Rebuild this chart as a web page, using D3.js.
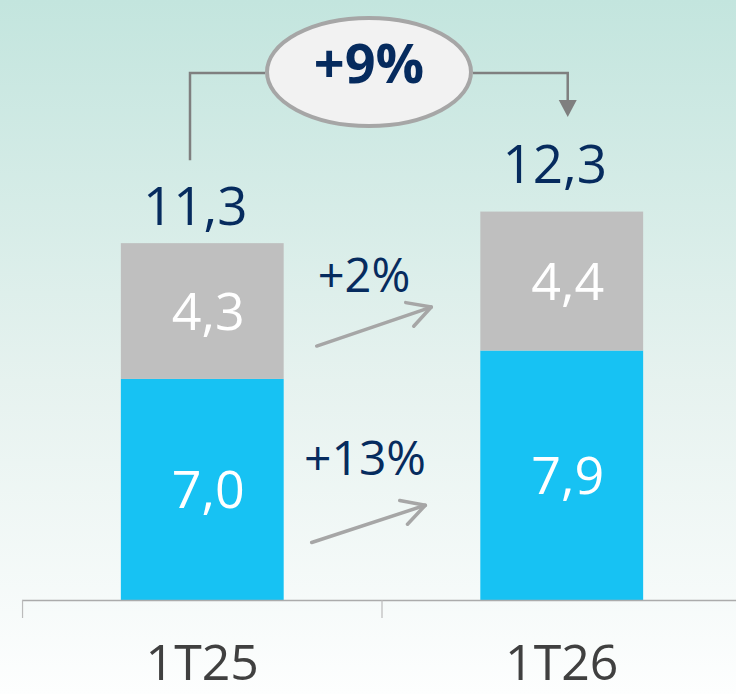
<!DOCTYPE html>
<html>
<head>
<meta charset="utf-8">
<script src="https://cdn.jsdelivr.net/npm/d3@7"></script>
<style>
  html, body { margin: 0; padding: 0; background: #fff; }
  svg { display: block; font-family: "Open Sans", "Noto Sans", sans-serif; }
</style>
</head>
<body>
<div id="chart"></div>
<script>
// ---- data ----
const categories = ["1T25", "1T26"];
const baseValues = [7.0, 7.9];      // blue segment
const topValues = [4.3, 4.4];       // gray segment
const totals = [11.3, 12.3];
const baseLabels = ["7,0", "7,9"];
const topLabels = ["4,3", "4,4"];
const totalLabels = ["11,3", "12,3"];
const growthTop = "+2%";
const growthBase = "+13%";
const growthTotal = "+9%";

const W = 736, H = 694;
const navy = "#062B5E";

const svg = d3.select("#chart").append("svg").attr("width", W).attr("height", H);

// background gradient
const defs = svg.append("defs");
const grad = defs.append("linearGradient").attr("id", "bg").attr("x1", 0).attr("y1", 0).attr("x2", 0).attr("y2", 1);
grad.append("stop").attr("offset", "0%").attr("stop-color", "#C3E5DE");
grad.append("stop").attr("offset", "55%").attr("stop-color", "#E6F2EF");
grad.append("stop").attr("offset", "100%").attr("stop-color", "#FDFEFE");
svg.append("rect").attr("width", W).attr("height", H).attr("fill", "url(#bg)");

const x = d3.scaleBand().domain(categories).range([22, 742]).paddingInner(0.547).paddingOuter(0.275);
const y = d3.scaleLinear().domain([0, 19]).range([600, 0]);
const bw = x.bandwidth();
const gap = (x.step() - bw) / 2;

const rows = categories.map((c, i) => ({
  c, base: baseValues[i], top: topValues[i], total: totals[i],
  bl: baseLabels[i], tl: topLabels[i], tot: totalLabels[i]
}));

// bars
svg.append("g").selectAll("rect").data(rows).join("rect")
  .attr("x", d => x(d.c)).attr("width", bw)
  .attr("y", d => y(d.base)).attr("height", d => y(0) - y(d.base))
  .attr("fill", "#17C2F3");
svg.append("g").selectAll("rect").data(rows).join("rect")
  .attr("x", d => x(d.c)).attr("width", bw)
  .attr("y", d => y(d.base + d.top)).attr("height", d => y(d.base) - y(d.base + d.top))
  .attr("fill", "#BFBFBF");

// in-bar labels
svg.append("g").selectAll("text").data(rows).join("text")
  .attr("x", d => x(d.c) + bw / 2 + 6)
  .attr("y", d => (y(0) + y(d.base)) / 2)
  .attr("dy", "0.36em")
  .attr("text-anchor", "middle").attr("fill", "#fff")
  .attr("font-size", 52).text(d => d.bl);
svg.append("g").selectAll("text").data(rows).join("text")
  .attr("x", d => x(d.c) + bw / 2 + 6)
  .attr("y", d => (y(d.base) + y(d.base + d.top)) / 2)
  .attr("dy", "0.36em")
  .attr("text-anchor", "middle").attr("fill", "#fff")
  .attr("font-size", 52).text(d => d.tl);

// totals
svg.append("g").selectAll("text").data(rows).join("text")
  .attr("x", d => x(d.c) + bw / 2 - 7)
  .attr("y", (d, i) => y(d.total) - (i === 0 ? 18 : 29))
  .attr("text-anchor", "middle").attr("fill", navy)
  .attr("font-size", 53).text(d => d.tot);

// axis
const axisG = svg.append("g");
axisG.append("line").attr("x1", 22).attr("x2", W).attr("y1", 600.5).attr("y2", 600.5)
  .attr("stroke", "#ABABAB").attr("stroke-width", 1.5);
axisG.selectAll("line.tick").data(categories).join("line").attr("class", "tick")
  .attr("x1", d => x(d) - gap).attr("x2", d => x(d) - gap)
  .attr("y1", 600).attr("y2", 618)
  .attr("stroke", "#BBBBBB").attr("stroke-width", 1.2);
axisG.selectAll("text").data(categories).join("text")
  .attr("x", d => x(d) + bw / 2)
  .attr("y", 680)
  .attr("text-anchor", "middle").attr("fill", "#404040")
  .attr("font-size", 50).text(d => d);

// growth arrows between bars
const ax0 = x(categories[0]) + bw + 33;
const ax1 = x(categories[1]) - 49;
function growthArrow(x0, y0, x1, y1) {
  const g = svg.append("g").attr("stroke", "#A6A6A6").attr("stroke-width", 3.5)
    .attr("fill", "none").attr("stroke-linecap", "round").attr("stroke-linejoin", "round");
  g.append("line").attr("x1", x0).attr("y1", y0).attr("x2", x1).attr("y2", y1);
  const ang = Math.atan2(y1 - y0, x1 - x0);
  const L = 26, spread = 0.5;
  const p1 = [x1 - L * Math.cos(ang - spread), y1 - L * Math.sin(ang - spread)];
  const p2 = [x1 - L * Math.cos(ang + spread), y1 - L * Math.sin(ang + spread)];
  g.append("path").attr("d", `M${p1[0]},${p1[1]}L${x1},${y1}L${p2[0]},${p2[1]}`);
}
const yTopA0 = (y(baseValues[0]) + y(totals[0])) / 2 + 35;
const yTopA1 = (y(baseValues[1]) + y(totals[1])) / 2 + 26;
growthArrow(ax0, yTopA0, ax1, yTopA1);
const yBaseA0 = (y(0) + y(baseValues[0])) / 2 + 53;
const yBaseA1 = (y(0) + y(baseValues[1])) / 2 + 30;
growthArrow(ax0 - 5, yBaseA0, ax1 - 6, yBaseA1);

const midX = (ax0 + ax1) / 2;
svg.append("text").attr("x", midX - 10).attr("y", 292).attr("text-anchor", "middle")
  .attr("fill", navy).attr("font-size", 47).text(growthTop);
svg.append("text").attr("x", midX - 9).attr("y", 475).attr("text-anchor", "middle")
  .attr("fill", navy).attr("font-size", 48).text(growthBase);

// total growth bracket
const bx0 = 190, bx1 = x(categories[1]) + bw / 2 + 6;
const by = 73;
const ecx = 369, erx = 104, ery = 56;
const br = svg.append("g").attr("stroke", "#7F7F7F").attr("stroke-width", 2.5).attr("fill", "none");
br.append("path").attr("d", `M${bx0},${y(totals[0]) - 83}V${by}H${ecx - erx}`);
br.append("path").attr("d", `M${ecx + erx},${by}H${bx1}V${101}`);
svg.append("path").attr("d", `M${bx1 - 9},${100}L${bx1 + 9},${100}L${bx1},${117}Z`).attr("fill", "#7F7F7F");
svg.append("ellipse").attr("cx", ecx).attr("cy", by - 1).attr("rx", erx - 2).attr("ry", ery - 2)
  .attr("fill", "#F2F2F2").attr("stroke", "#A6A6A6").attr("stroke-width", 4);
svg.append("text").attr("x", ecx).attr("y", 83).attr("text-anchor", "middle")
  .attr("fill", navy).attr("font-weight", 700).attr("font-size", 54).text(growthTotal);
</script>
</body>
</html>
